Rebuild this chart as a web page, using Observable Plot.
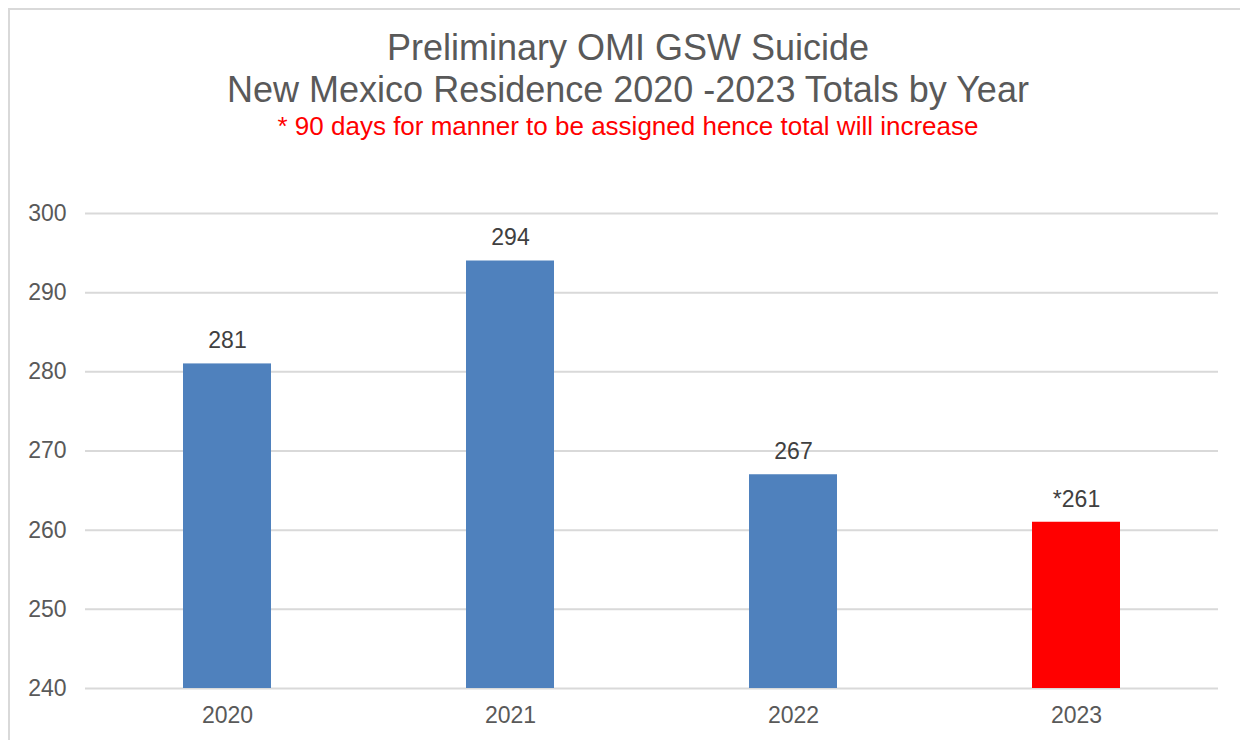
<!DOCTYPE html>
<html>
<head>
<meta charset="utf-8">
<script src="https://cdn.jsdelivr.net/npm/d3@7"></script>
<script src="https://cdn.jsdelivr.net/npm/@observablehq/plot@0.6"></script>
<style>
  html, body { margin: 0; padding: 0; background: #fff; overflow: hidden; width: 1240px; height: 740px; }
  #frame { position: absolute; left: 8px; top: 8px; width: 1300px; height: 800px; border: 2px solid #d9d9d9; box-sizing: border-box; }
  #header { position: relative; width: 1240px; height: 150px; font-family: "Liberation Sans", Arial, sans-serif; }
  .t { position: absolute; left: 0; width: 1256px; text-align: center; white-space: pre; }
  #t1 { top: 29.5px; font-size: 36px; line-height: 36px; color: #595959; }
  #t2 { top: 71.5px; font-size: 36px; line-height: 36px; color: #595959; }
  #t3 { top: 113px; font-size: 26px; line-height: 26px; color: #ff0000; }
  #chart { position: relative; }
  #chart svg { display: block; }
</style>
</head>
<body>
<div id="frame"></div>
<div id="header">
  <div class="t" id="t1">Preliminary OMI GSW Suicide</div>
  <div class="t" id="t2">New Mexico Residence 2020 -2023 Totals by Year</div>
  <div class="t" id="t3">* 90 days for manner to be assigned hence total will increase</div>
</div>
<div id="chart"></div>
<script>
const years = ["2020", "2021", "2022", "2023"];
const totals = [281, 294, 267, 261];
const valueLabels = ["281", "294", "267", "*261"];
const status = ["final", "final", "final", "preliminary"];
const yTicks = [240, 250, 260, 270, 280, 290, 300];
const yMin = 240;
const yMax = 300;

const data = years.map((year, i) => ({
  year,
  total: totals[i],
  label: valueLabels[i],
  status: status[i]
}));

const chart = Plot.plot({
  width: 1240,
  height: 590,
  marginTop: 63,
  marginBottom: 52,
  marginLeft: 85,
  marginRight: 22,
  style: {
    fontFamily: "'Liberation Sans', Arial, sans-serif",
    fontSize: "23px",
    color: "#595959",
    background: "transparent"
  },
  x: {
    domain: years,
    paddingInner: 0.689,
    paddingOuter: 0.345,
    label: null,
    tickSize: 0,
    tickPadding: 18
  },
  y: {
    domain: [yMin, yMax],
    ticks: yTicks,
    label: null,
    tickSize: 0,
    tickPadding: 19
  },
  color: {
    domain: ["final", "preliminary"],
    range: ["#4f81bd", "#ff0000"]
  },
  marks: [
    Plot.ruleY(yTicks, { stroke: "#d9d9d9", strokeWidth: 2 }),
    Plot.barY(data, { x: "year", y1: yMin, y2: "total", fill: "status" }),
    Plot.text(data, { x: "year", y: "total", text: "label", dy: -23, fill: "#404040", fontSize: 23 })
  ]
});

document.getElementById("chart").appendChild(chart);
</script>
</body>
</html>
